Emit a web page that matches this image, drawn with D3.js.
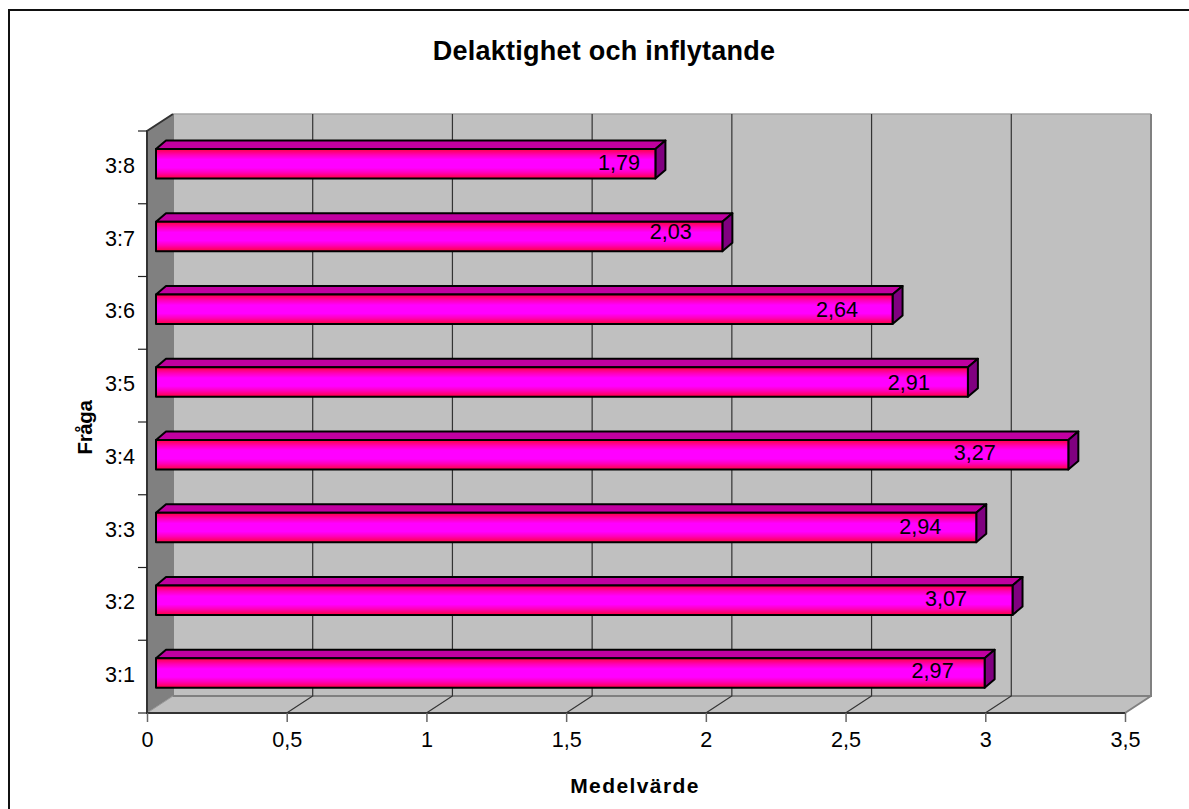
<!DOCTYPE html>
<html><head><meta charset="utf-8">
<script src="https://cdn.jsdelivr.net/npm/d3@7/dist/d3.min.js"></script>
<style>html,body{margin:0;padding:0;background:#fff;overflow:hidden}svg{display:block}text{font-family:"Liberation Sans",Arial,sans-serif;fill:#000}</style>
</head><body><svg id="c" width="1189" height="809"></svg>
<script>
const categories = ["3:1","3:2","3:3","3:4","3:5","3:6","3:7","3:8"];
const values = [2.97,3.07,2.94,3.27,2.91,2.64,2.03,1.79];
const xTicks = [0,0.5,1,1.5,2,2.5,3,3.5];
const titleText = "Delaktighet och inflytande";
const xTitle = "Medelvärde";
const yTitle = "Fråga";
// hand-placed label nudges of the original, in pixels from the bar end
const labelNudgeX = [-52,-66.5,-56,-93.5,-59,-55.5,-51.5,-36.5];
const labelNudgeY = [-2.5,-2,-1,-2.5,0,0,-5,-1.5];

const comma = v => String(v).replace(".", ",");
const svg = d3.select("#c");
const W = {dx:26, dy:-17};           // wall depth offset
const B = {dx:10, dy:-8.5};          // bar depth offset
const x = d3.scaleLinear().domain([0,3.5]).range([147,1125]);
const xBar = d3.scaleLinear().domain([0,3.5]).range([156,1132.5]);
const y = d3.scaleBand().domain(categories).range([713,131]);
const poly = pts => "M" + pts.map(p=>p.join(",")).join("L") + "Z";
const line = d3.line();

const defs = svg.append("defs");
const g = defs.append("linearGradient").attr("id","barFill").attr("x1",0).attr("x2",0).attr("y1",0).attr("y2",1);
[[0,"#ff0040"],[0.2,"#ff00b8"],[0.36,"#ff00ff"],[0.64,"#ff00ff"],[0.8,"#ff00b8"],[1,"#ff0040"]].forEach(s=>g.append("stop").attr("offset",s[0]).attr("stop-color",s[1]));

// outer frame: only top and left edges fall inside the picture
svg.append("path").attr("d","M1189,10H9V809").attr("fill","none").attr("stroke","#111").attr("stroke-width",2);

const x0=x(0), x1=x(3.5), yb=y.range()[0], yt=y.range()[1];
// back wall, side wall, floor
svg.append("path").attr("d",poly([[x0+W.dx,yt+W.dy],[x1+W.dx,yt+W.dy],[x1+W.dx,yb+W.dy],[x0+W.dx,yb+W.dy]])).attr("fill","#c0c0c0");
svg.append("path").attr("d",poly([[x0,yb],[x1,yb],[x1+W.dx,yb+W.dy],[x0+W.dx,yb+W.dy]])).attr("fill","#c0c0c0");
svg.append("path").attr("d",poly([[x0,yt],[x0+W.dx,yt+W.dy],[x0+W.dx,yb+W.dy],[x0,yb]])).attr("fill","#808080");

// back wall edges
svg.append("path").attr("d",line([[x0+W.dx,yt+W.dy],[x1+W.dx,yt+W.dy]])).attr("stroke","#a6a6a6").attr("stroke-width",1.5);
svg.append("path").attr("d",line([[x1+W.dx,yt+W.dy],[x1+W.dx,yb+W.dy],[x0+W.dx,yb+W.dy],[x0+W.dx,yt+W.dy]])).attr("fill","none").attr("stroke","#808080").attr("stroke-width",2);
svg.append("path").attr("d",line([[x1,yb],[x1+W.dx,yb+W.dy]])).attr("stroke","#808080").attr("stroke-width",2);
svg.append("path").attr("d",line([[x0,yb],[x0+W.dx,yb+W.dy]])).attr("stroke","#999").attr("stroke-width",1);

// gridlines on the wall and across the floor
const inner = xTicks.filter(t=>t>0 && t<3.5);
svg.append("g").selectAll("path").data(inner).join("path")
  .attr("d",t=>line([[x(t)+W.dx,yt+W.dy],[x(t)+W.dx,yb+W.dy],[x(t),yb]]))
  .attr("fill","none").attr("stroke","#333").attr("stroke-width",1.2);

// side wall / front edges
svg.append("path").attr("d",line([[x0+W.dx,yt+W.dy],[x0,yt],[x0,yb],[x1,yb]])).attr("fill","none").attr("stroke","#333").attr("stroke-width",2);

// axes
const xAxis = d3.axisBottom(x).tickValues(xTicks).tickSize(9).tickPadding(10).tickFormat(comma);
const gx = svg.append("g").attr("transform",`translate(0,${yb})`).call(xAxis);
gx.select(".domain").remove();
gx.selectAll("line").attr("stroke","#666").attr("stroke-width",1.5);
gx.selectAll("text").attr("font-size",21.6).attr("fill","#000");

const yAxis = d3.axisLeft(y).tickSize(0).tickPadding(12);
const gy = svg.append("g").attr("transform",`translate(${x0},0)`).call(yAxis);
gy.select(".domain").remove();
gy.selectAll("text").attr("font-size",21.6).attr("fill","#000").attr("dy","0.25em");
const yEdges = categories.map(c=>y(c)).concat([yb]);
svg.append("g").selectAll("line").data(yEdges).join("line")
  .attr("x1",x0-9).attr("x2",x0).attr("y1",d=>d).attr("y2",d=>d)
  .attr("stroke","#222").attr("stroke-width",1.2);

// bars, back to front
const barH = 29.5, barX = xBar(0), barOff = 18;
const rows = categories.map((c,i)=>({c,v:values[i],i})).reverse();
const bars = svg.append("g").selectAll("g").data(rows).join("g");
const bx1 = d=>xBar(d.v), bt = d=>y(d.c)+barOff, bb = d=>bt(d)+barH;
const stroke = s=>s.attr("stroke","#000").attr("stroke-width",2).attr("stroke-linejoin","round");
bars.append("path").attr("d",d=>poly([[barX,bt(d)],[barX+B.dx,bt(d)+B.dy],[bx1(d)+B.dx,bt(d)+B.dy],[bx1(d),bt(d)]])).attr("fill","#c000a0").call(stroke);
bars.append("path").attr("d",d=>poly([[bx1(d),bt(d)],[bx1(d)+B.dx,bt(d)+B.dy],[bx1(d)+B.dx,bb(d)+B.dy],[bx1(d),bb(d)]])).attr("fill","#800080").call(stroke);
bars.append("rect").attr("x",barX).attr("y",bt).attr("width",d=>bx1(d)-barX).attr("height",barH).attr("fill","url(#barFill)").call(stroke);
bars.append("text").attr("x",d=>bx1(d)+labelNudgeX[d.i]).attr("y",d=>bt(d)+barH/2+labelNudgeY[d.i]).attr("dy","0.35em")
  .attr("text-anchor","middle").attr("font-size",21.6).text(d=>comma(d.v.toFixed(2)));

// titles
svg.append("text").attr("x",604).attr("y",59.5).attr("text-anchor","middle").attr("font-weight","bold").attr("font-size",27).attr("letter-spacing",0.24).text(titleText);
svg.append("text").attr("x",635).attr("y",792.5).attr("text-anchor","middle").attr("font-weight","bold").attr("font-size",21).attr("letter-spacing",1.4).text(xTitle);
svg.append("text").attr("transform","translate(91.5,427.5) rotate(-90)").attr("text-anchor","middle").attr("font-weight","bold").attr("font-size",20.5).attr("letter-spacing",-0.4).text(yTitle);
</script></body></html>
